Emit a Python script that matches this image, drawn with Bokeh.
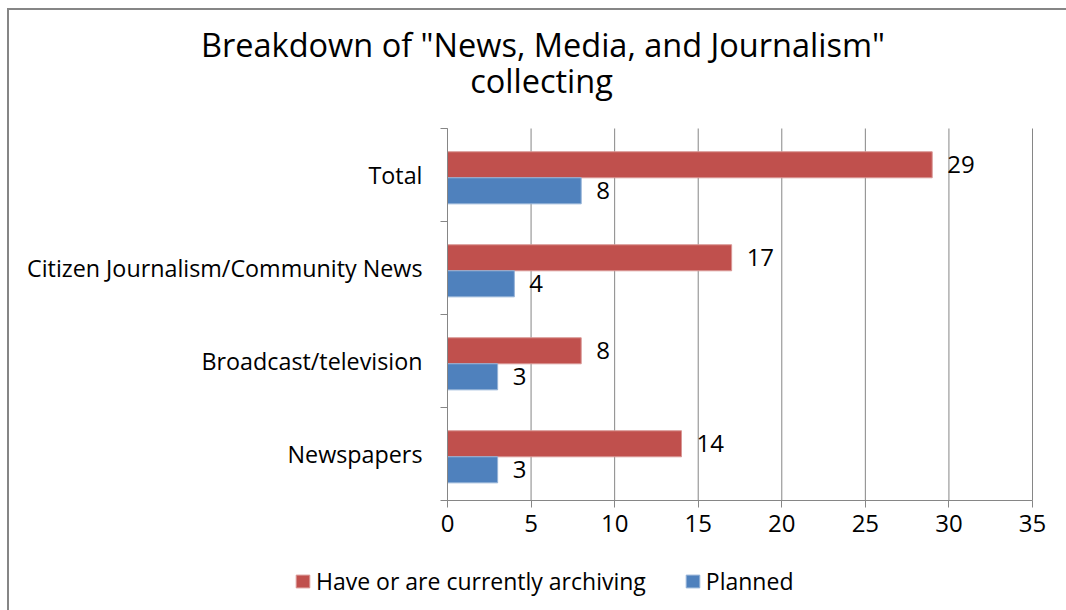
from bokeh.plotting import figure
from bokeh.models import (ColumnDataSource, Range1d, FixedTicker, LabelSet, Label,
                          Legend, LegendItem)
from bokeh.core.properties import value
from bokeh.embed import file_html
from bokeh.resources import INLINE

# ---- data ----
categories = ["Newspapers", "Broadcast/television",
              "Citizen Journalism/Community News", "Total"]
have_archiving = [14, 8, 17, 29]
planned = [3, 3, 4, 8]
series_names = ["Have or are currently archiving", "Planned"]
x_ticks = [0, 5, 10, 15, 20, 25, 30, 35]
x_max = 35
title_lines = ['Breakdown of "News, Media, and Journalism"', "collecting"]

RED = "#C0504D"
BLUE = "#4F81BD"
GRID = "#868686"
FONT = "Open Sans"
TXT = "#000000"

# ---- layout (pixels) ----
W, H = 1057, 600                 # canvas (inside the css border)
PLOT_L, PLOT_R = 438, 1023       # plot area, canvas px
PLOT_T, PLOT_B = 118, 490
n = len(categories)
px_x = (PLOT_R - PLOT_L) / x_max
px_y = (PLOT_B - PLOT_T) / n
x_range = Range1d(-PLOT_L / px_x, x_max + (W - PLOT_R) / px_x)
y_range = Range1d(-(H - PLOT_B) / px_y, n + PLOT_T / px_y)

idx = list(range(n))
bar_h = 0.28
red_src = ColumnDataSource(dict(y=[i + 0.5 + 0.11 for i in idx], v=have_archiving,
                                lab=[str(v) for v in have_archiving]))
blue_src = ColumnDataSource(dict(y=[i + 0.5 - 0.17 for i in idx], v=planned,
                                 lab=[str(v) for v in planned]))

p = figure(frame_width=W, frame_height=H, output_backend="svg",
           toolbar_location=None, x_range=x_range, y_range=y_range,
           min_border=0)
p.styles = {"border-left": f"2px solid {GRID}", "border-top": f"2px solid {GRID}",
            "margin-left": "7px", "margin-top": "8px"}
p.outline_line_color = None
p.background_fill_color = "white"
p.border_fill_color = "white"
p.xgrid.visible = False
p.ygrid.visible = False

# vertical gridlines over the plot area only
p.segment(x0=x_ticks, y0=[0] * len(x_ticks), x1=x_ticks, y1=[n] * len(x_ticks),
          line_color=GRID, line_width=1)

r_red = p.hbar(y="y", right="v", left=0, height=bar_h, source=red_src,
               fill_color=RED, line_color="#D99795", line_width=1)
r_blue = p.hbar(y="y", right="v", left=0, height=bar_h, source=blue_src,
                fill_color=BLUE, line_color="#95B3D7", line_width=1)

for src in (red_src, blue_src):
    p.add_layout(LabelSet(x="v", y="y", text="lab", source=src, x_offset=15,
                          text_align="left", text_baseline="middle",
                          text_font=value(FONT), text_font_size=value("24px"),
                          text_color=TXT))

# x axis (fixed at y = 0)
p.xaxis.fixed_location = 0
p.xaxis.bounds = (0, x_max)
p.xaxis.ticker = FixedTicker(ticks=x_ticks)
p.xaxis.axis_line_color = GRID
p.xaxis.major_tick_line_color = GRID
p.xaxis.major_tick_out = 7
p.xaxis.major_tick_in = 0
p.xaxis.minor_tick_line_color = None
p.xaxis.major_label_text_font = FONT
p.xaxis.major_label_text_font_size = "24px"
p.xaxis.major_label_text_color = TXT
p.xaxis.major_label_standoff = 7

# y axis (fixed at x = 0): labels at band centres, ticks at band boundaries
p.yaxis.fixed_location = 0
p.yaxis.bounds = (0, n)
p.yaxis.ticker = FixedTicker(ticks=[i + 0.5 for i in idx],
                             minor_ticks=list(range(n + 1)))
p.yaxis.major_label_overrides = {i + 0.5: c for i, c in zip(idx, categories)}
p.yaxis.axis_line_color = GRID
p.yaxis.major_tick_line_color = None
p.yaxis.major_tick_out = 0
p.yaxis.major_tick_in = 0
p.yaxis.minor_tick_line_color = GRID
p.yaxis.minor_tick_out = 7
p.yaxis.minor_tick_in = 0
p.yaxis.major_label_text_font = FONT
p.yaxis.major_label_text_font_size = "23.3px"
p.yaxis.major_label_text_color = TXT
p.yaxis.major_label_standoff = 18

# title: two centred lines (screen px from the canvas bottom-left)
p.add_layout(Label(x=533.5, y=H - 34, x_units="screen", y_units="screen",
                   text=title_lines[0], text_align="center", text_baseline="alphabetic",
                   text_font=FONT, text_font_size="32.5px", text_color=TXT))
p.add_layout(Label(x=532, y=H - 70, x_units="screen", y_units="screen",
                   text=title_lines[1], text_align="center", text_baseline="alphabetic",
                   text_font=FONT, text_font_size="32.5px", text_color=TXT))

legend = Legend(items=[LegendItem(label=series_names[0], renderers=[r_red]),
                       LegendItem(label=series_names[1], renderers=[r_blue])],
                orientation="horizontal", location=(285, 13),
                label_text_font=FONT, label_text_font_size="23px", label_text_color=TXT,
                glyph_width=17, glyph_height=16, label_standoff=5, spacing=38,
                padding=0, margin=0, border_line_color=None, background_fill_alpha=0)
p.add_layout(legend, "center")

open("out.html", "w").write(file_html(p, INLINE))
